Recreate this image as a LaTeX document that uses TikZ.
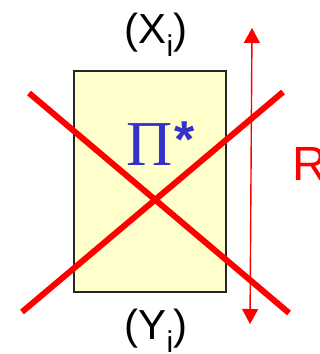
\documentclass[tikz,border=0pt]{standalone}
\usepackage{fontspec}
\setmainfont{Liberation Sans}
\newfontfamily\serifgr{Liberation Serif}
\usetikzlibrary{arrows.meta}
\definecolor{boxfill}{HTML}{FFFFCC}
\definecolor{pired}{HTML}{FF0000}
\definecolor{piblue}{HTML}{3333CC}
\tikzset{
  crossline/.style={pired, line width=6pt},
  rarrow/.style={pired, line width=1.4pt, {Triangle[width=16pt,length=15pt]}-{Triangle[width=16pt,length=15pt]}},
  lbl/.style={inner sep=0pt, anchor=base, font=\fontsize{42}{42}\selectfont},
}
\begin{document}
\begin{tikzpicture}[x=1pt,y=-1pt]
\useasboundingbox (0,0) rectangle (320,354);
\node[draw=black!85, line width=2pt, fill=boxfill, minimum width=152pt, minimum height=221pt, inner sep=0pt] (box) at (150,181.5) {};
\node[inner sep=0pt, anchor=base west, text=piblue] (pi) at (126,165) {\serifgr\fontsize{64}{64}\selectfont Π\hspace{2pt}\raisebox{0pt}[0pt][0pt]{\normalfont\bfseries\fontsize{52}{52}\selectfont\raisebox{8pt}{*}}};
\coordinate (a1) at (29,93);
\coordinate (a2) at (289,313);
\coordinate (b1) at (22,312);
\coordinate (b2) at (283,92);
\draw[crossline] (a1) -- (a2);
\draw[crossline] (b1) -- (b2);
\coordinate (rt) at (252,28);
\coordinate (rb) at (250,324);
\draw[rarrow] (rt) -- (rb);
\node[lbl] (xi) at (156,43) {(X\raisebox{-13pt}{\fontsize{30}{30}\selectfont i})};
\node[lbl] (yi) at (156,339) {(Y\raisebox{-13pt}{\fontsize{30}{30}\selectfont i})};
\node[lbl, anchor=base west, text=pired, font=\fontsize{48}{48}\selectfont] (r) at (292,180) {R};
\end{tikzpicture}
\end{document}
